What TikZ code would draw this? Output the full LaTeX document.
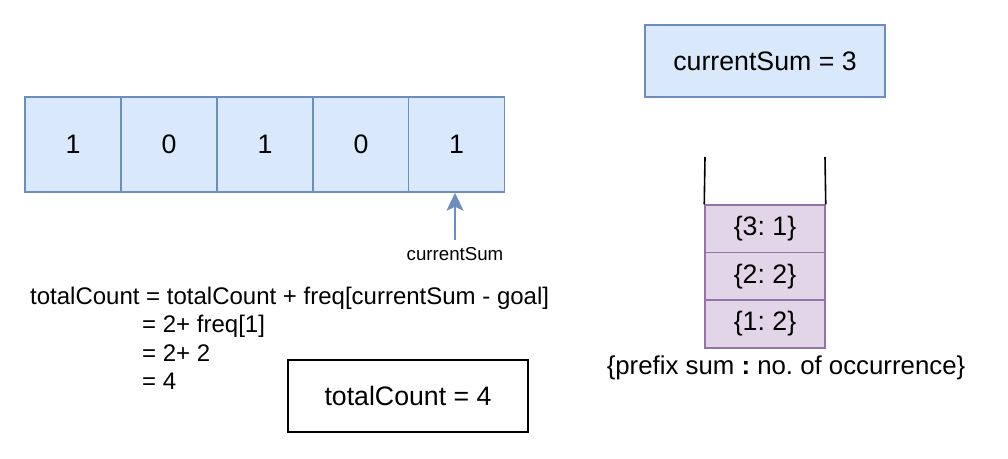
\documentclass[tikz,border=0pt]{standalone}
\usepackage{fontspec}
\setmainfont{Liberation Sans}
\usetikzlibrary{arrows.meta}
\definecolor{bfill}{HTML}{DAE8FC}
\definecolor{bline}{HTML}{6C8EBF}
\definecolor{pfill}{HTML}{E1D5E7}
\definecolor{pline}{HTML}{9673A6}
\frenchspacing
\tikzset{
  big/.style={font=\fontsize{26.7}{32}\selectfont},
  mid/.style={font=\fontsize{24}{28}\selectfont},
  small/.style={font=\fontsize{18.7}{22}\selectfont},
  cell/.style={draw=bline, fill=bfill, line width=1.5pt, minimum width=96pt, minimum height=95pt, inner sep=0pt, big},
  pcell/.style={draw=pline, fill=pfill, line width=1.5pt, minimum width=120pt, minimum height=47.7pt, inner sep=0pt, big},
  plainbox/.style={draw=black, fill=white, line width=1.5pt, minimum width=240pt, minimum height=72pt, inner sep=0pt, big},
  bluebox/.style={draw=bline, fill=bfill, line width=1.5pt, minimum width=240pt, minimum height=72pt, inner sep=0pt, big},
  ftext/.style={anchor=base west, inner sep=0pt, mid},
}
\begin{document}
\begin{tikzpicture}[x=1pt,y=-1pt]
\useasboundingbox[fill=white] (0,0) rectangle (1008,458);
% array
\node[cell] (c1) at (73,144.5) {1};
\node[cell] (c2) at (169,144.5) {0};
\node[cell] (c3) at (265,144.5) {1};
\node[cell] (c4) at (361,144.5) {0};
\node[cell] (c5) at (456.5,144.5) {1};
% arrow
\node[small, inner sep=1pt] (lbl) at (455,254) {currentSum};
\coordinate (as) at (455,240);
\draw[bline, line width=1.5pt, -{Stealth[length=18pt,width=17pt,inset=4pt]}] (as) -- (c5.south -| as);
% current sum box
\node[bluebox] (cs) at (765,61) {currentSum = 3};
% stack
\node[pcell] (s3) at (765,229) {\{3: 1\}};
\node[pcell] (s2) at (765,276.5) {\{2: 2\}};
\node[pcell] (s1) at (765,324) {\{1: 2\}};
\coordinate (tl) at (705,157);
\coordinate (tr) at (825,157);
\draw[black, line width=1.6pt] (tl) -- (s3.north west);
\draw[black, line width=1.6pt] (tr) -- (s3.north east);
\node[font=\fontsize{25.8}{30}\selectfont, inner sep=0pt] (cap) at (786,368) {\{prefix sum \textbf{:} no. of occurrence\}};
% formula
\node[ftext] (f1) at (30,304) {totalCount = totalCount + freq[currentSum - goal]};
\node[ftext] (f2) at (142,332.5) {= 2+ freq[1]};
\node[ftext] (f3) at (142,361) {= 2+ 2};
\node[ftext] (f4) at (142,389.5) {= 4};
% total box
\node[plainbox] (tc) at (408,396) {totalCount = 4};
\end{tikzpicture}
\end{document}
